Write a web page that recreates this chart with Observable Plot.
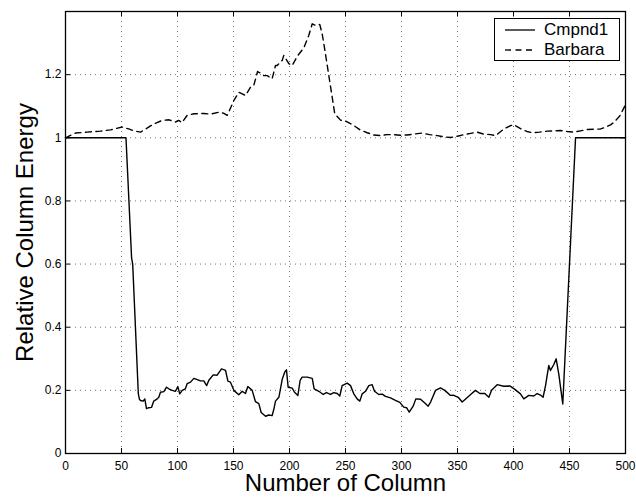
<!DOCTYPE html>
<html>
<head>
<meta charset="utf-8">
<script src="https://cdn.jsdelivr.net/npm/d3@7"></script>
<script src="https://cdn.jsdelivr.net/npm/@observablehq/plot@0.6"></script>
<style>
  html, body { margin: 0; padding: 0; background: #fff; }
  #wrap { position: relative; width: 636px; height: 499px; font-family: "Liberation Sans", Arial, Helvetica, sans-serif; }
  #legend { position: absolute; left: 494px; top: 18px; width: 124px; height: 41px; border: 1px solid #000; background: #fff; }
  .row { position: absolute; left: 0; height: 20px; display: flex; align-items: center; }
  .row span { font-size: 17px; color: #000; margin-left: 9px; line-height: 20px; }
  .row svg { margin-left: 10px; }
</style>
</head>
<body>
<div id="wrap"></div>
<script>
// ---- data ----
const seriesNames = ["Cmpnd1", "Barbara"];
const xTicks = [0, 50, 100, 150, 200, 250, 300, 350, 400, 450, 500];
const yTicks = [0, 0.2, 0.4, 0.6, 0.8, 1, 1.2];
const xDomain = [0, 500];
const yDomain = [0, 1.4];
const xLabel = "Number of Column";
const yLabel = "Relative Column Energy";

const cmpX = [0,54,59,60,65,66,67,69.4,70.8,72.3,74.4,76.8,78.8,81.9,83.3,84.8,87.8,90.2,92.2,95.3,98.2,100.3,102,104.2,107,108.6,111.6,114.6,117.6,120.5,123.5,126,128,131.9,135.4,139.3,142.9,145,147.3,150.3,154.7,157.8,160.7,162.8,166.7,169.6,172.6,174.7,178.6,181.5,184.5,186,187.5,190.5,193.5,195.8,197.3,198.8,202.4,204.5,207.5,209.5,211.3,215.8,220.3,222,226.2,230.1,233,236.6,239.6,242.6,244.9,247,251.5,254.5,257.4,260.4,262.8,264.9,267.9,270.8,273.8,275.9,279.7,282.8,285.7,290.2,294.6,298.5,302,304.5,306.9,310.4,312.8,317,320.8,323.8,326,330.4,334.8,338.7,343.7,346.2,350.6,354.2,358,362.5,366,370,374.4,378,380.4,385.4,391.3,396.7,401.2,406.2,409.2,413.7,418.1,421.1,424.1,426.4,428.6,431.5,433,436,438.1,440.4,444,455.4,500];
const cmpY = [1,1,0.62,0.6,0.19,0.172,0.168,0.166,0.173,0.142,0.145,0.146,0.166,0.173,0.178,0.194,0.196,0.21,0.205,0.2,0.197,0.212,0.189,0.2,0.205,0.221,0.226,0.238,0.234,0.23,0.23,0.215,0.232,0.249,0.248,0.268,0.263,0.229,0.226,0.2,0.186,0.197,0.19,0.212,0.2,0.164,0.158,0.13,0.118,0.122,0.12,0.14,0.166,0.178,0.235,0.258,0.265,0.21,0.207,0.194,0.184,0.232,0.242,0.242,0.238,0.205,0.197,0.187,0.193,0.187,0.193,0.19,0.182,0.215,0.223,0.215,0.189,0.173,0.166,0.189,0.197,0.215,0.218,0.197,0.187,0.188,0.181,0.176,0.168,0.162,0.147,0.145,0.131,0.15,0.173,0.172,0.16,0.15,0.163,0.2,0.208,0.2,0.184,0.185,0.178,0.163,0.175,0.189,0.2,0.19,0.19,0.178,0.2,0.218,0.213,0.214,0.203,0.189,0.173,0.184,0.182,0.19,0.185,0.178,0.215,0.279,0.263,0.282,0.3,0.252,0.157,1,1];

const barX = [0,8.9,19.3,31.2,40.2,50.6,56.5,61,67,73.5,78.8,86.3,92.3,98.2,101,104,108.6,114.6,123.5,129.5,136.9,141,144.4,150.3,154.7,157.8,160.7,165.2,168.1,171.5,174,177.1,180.1,184.5,187.5,189,193.5,194.9,199.4,202.4,206.9,212.8,217.2,220.3,223.2,227,229.2,232.1,235.1,238.1,240.4,245.5,250,257.4,263,269.4,275,281.3,287,293.2,299,305.1,312,318.5,325,331.9,338,343.8,350,355.7,362,367.6,373,379.5,384,391.4,397,400.4,404,407.8,412,416.7,423,430.1,436,442,448,453.8,460,465.8,472,477.7,482,486.6,490,492.6,495,497.9,500];
const barY = [1,1.015,1.018,1.021,1.025,1.034,1.028,1.022,1.018,1.032,1.044,1.055,1.057,1.05,1.055,1.048,1.071,1.076,1.077,1.075,1.081,1.078,1.071,1.118,1.144,1.139,1.134,1.16,1.166,1.21,1.205,1.197,1.197,1.187,1.229,1.229,1.245,1.261,1.235,1.229,1.258,1.285,1.324,1.361,1.356,1.359,1.329,1.266,1.197,1.129,1.076,1.056,1.053,1.039,1.025,1.016,1.009,1.007,1.01,1.01,1.008,1.009,1.012,1.015,1.01,1.007,1.003,1.001,1.005,1.01,1.014,1.018,1.012,1.01,1.007,1.028,1.038,1.041,1.034,1.026,1.02,1.016,1.018,1.021,1.022,1.023,1.02,1.018,1.022,1.026,1.027,1.028,1.033,1.041,1.05,1.06,1.07,1.09,1.105];

const cmp = cmpX.map((x, i) => ({x, y: cmpY[i]}));
const bar = barX.map((x, i) => ({x, y: barY[i]}));
const yMin = yDomain[0], yMax = yDomain[1], xMin = xDomain[0], xMax = xDomain[1];
const fmtY = d => d3.format("~g")(d);

const gridStyle = {stroke: "#000", strokeOpacity: 0.55, strokeWidth: 1, strokeDasharray: "1,4"};

const chart = Plot.plot({
  width: 636,
  height: 499,
  marginLeft: 65,
  marginRight: 11,
  marginTop: 11,
  marginBottom: 46,
  x: {domain: xDomain},
  y: {domain: yDomain},
  style: {fontFamily: "'Liberation Sans', Arial, Helvetica, sans-serif", background: "#fff", color: "#000", overflow: "visible"},
  marks: [
    Plot.ruleX(xTicks.slice(1, -1), {x: d => d, ...gridStyle}),
    Plot.ruleY(yTicks.slice(1), {y: d => d, ...gridStyle}),
    // inward ticks, all four sides
    Plot.ruleX(xTicks, {x: d => d, y1: yMin, y2: yMin, insetBottom: 5, stroke: "#000"}),
    Plot.ruleX(xTicks, {x: d => d, y1: yMax, y2: yMax, insetBottom: -5, stroke: "#000"}),
    Plot.ruleY(yTicks, {y: d => d, x1: xMin, x2: xMin, insetRight: -5, stroke: "#000"}),
    Plot.ruleY(yTicks, {y: d => d, x1: xMax, x2: xMax, insetRight: 5, stroke: "#000"}),
    Plot.line(cmp, {x: "x", y: "y", stroke: "#000", strokeWidth: 1.4}),
    Plot.line(bar, {x: "x", y: "y", stroke: "#000", strokeWidth: 1.4, strokeDasharray: "6,4.5"}),
    Plot.frame({stroke: "#000", strokeWidth: 1.3}),
    Plot.axisX({ticks: xTicks, tickSize: 0, tickPadding: 8, fontSize: 12, label: null, tickFormat: d => String(d)}),
    Plot.axisY({ticks: yTicks, tickSize: 0, tickPadding: 4, fontSize: 12, label: null, tickFormat: fmtY}),
    Plot.text([xLabel], {text: d => d, frameAnchor: "bottom", lineAnchor: "middle", textAnchor: "middle", dy: 29.5, fontSize: 24, fill: "#000"}),
    Plot.text([yLabel], {text: d => d, frameAnchor: "left", lineAnchor: "middle", textAnchor: "middle", rotate: -90, dx: -40, fontSize: 24, fill: "#000"})
  ]
});

const wrap = document.getElementById("wrap");
wrap.appendChild(chart);

// legend
const legend = document.createElement("div");
legend.id = "legend";
const dashes = ["none", "6,4.5"];
seriesNames.forEach((name, i) => {
  const row = document.createElement("div");
  row.className = "row";
  row.style.top = (i === 0 ? 1 : 21) + "px";
  row.innerHTML = `<svg width="30" height="4" style="overflow:visible"><line x1="0" x2="30" y1="2" y2="2" stroke="#000" stroke-width="1.3" stroke-dasharray="${dashes[i]}"/></svg><span>${name}</span>`;
  legend.appendChild(row);
});
wrap.appendChild(legend);
</script>
</body>
</html>
